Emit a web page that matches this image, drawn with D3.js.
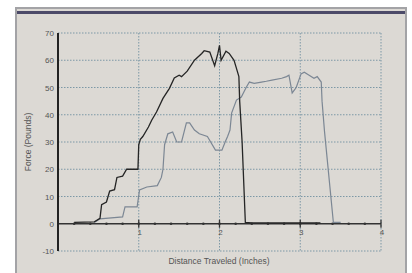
<!DOCTYPE html>
<html>
<head>
<meta charset="utf-8">
<script src="https://cdn.jsdelivr.net/npm/d3@7"></script>
<style>
  body { margin: 0; background: #fff; }
  svg { display: block; }
</style>
</head>
<body>
<svg id="chart"></svg>
<script>
// force vs distance
var blackSeries = [
  [0.2,0.5],[0.45,0.7],[0.52,2],[0.54,7],[0.6,8],[0.64,12],[0.7,12.5],[0.73,17],[0.8,17.5],
  [0.85,20],[0.99,20],[1.0,29],[1.02,31],[1.05,32],[1.12,35.5],[1.16,38],[1.22,41],[1.3,46],
  [1.38,49.7],[1.44,53.5],[1.5,54.5],[1.53,54],[1.6,56],[1.69,60],[1.78,62.5],[1.81,63.5],
  [1.88,63],[1.94,58],[1.98,62.5],[2.0,65.5],[2.02,60],[2.08,63.3],[2.12,62.5],[2.18,60],
  [2.21,57],[2.24,54],[2.25,45],[2.28,30],[2.32,0.5],[2.4,0.3],[3.25,0.3]
];
var graySeries = [
  [0.45,0.5],[0.52,1.8],[0.8,2.5],[0.83,6.2],[0.98,6.2],[1.01,12.4],[1.1,13.5],[1.23,14],
  [1.28,17],[1.3,20],[1.32,29],[1.36,33],[1.42,33.7],[1.47,30],[1.53,30],[1.59,37],[1.63,37],
  [1.69,34.4],[1.75,33],[1.85,32],[1.95,27],[2.03,27],[2.07,30],[2.1,32],[2.13,34.4],
  [2.15,40.6],[2.21,45.4],[2.27,46.5],[2.33,50],[2.37,52],[2.43,51.5],[2.52,52],[2.58,52.3],
  [2.65,52.7],[2.77,53.4],[2.83,54],[2.86,54.5],[2.9,48],[2.95,50],[3.01,55],[3.05,55.6],
  [3.11,54.5],[3.17,53.4],[3.21,54],[3.26,52],[3.27,45],[3.3,34],[3.41,0.5],[3.5,0.5]
];
var yTicks = [-10,0,10,20,30,40,50,60,70];
var xTicks = [1,2,3,4];
var xTitle = "Distance Traveled (Inches)";
var yTitle = "Force (Pounds)";

var width = 412, height = 273;
var svg = d3.select("#chart").attr("width", width).attr("height", height);

// window frame
svg.append("rect").attr("x",16).attr("y",8).attr("width",390).attr("height",270)
  .attr("fill","#dcd9d4").attr("stroke","#a3a3a6").attr("stroke-width",2);
svg.append("rect").attr("x",17).attr("y",11).attr("width",388).attr("height",3)
  .attr("fill","#4c4a68");

var x = d3.scaleLinear().domain([0,4]).range([58,381]);
var y = d3.scaleLinear().domain([-10,70]).range([251,33]);

// grid
var grid = svg.append("g").attr("stroke","#7d98a6").attr("stroke-width",1)
  .attr("stroke-dasharray","1.5,1.5");
grid.selectAll("line.h").data(yTicks.filter(function(d){return d!=0;})).enter().append("line")
  .attr("x1",x(0)).attr("x2",x(4)).attr("y1",function(d){return y(d);}).attr("y2",function(d){return y(d);});
grid.selectAll("line.v").data(xTicks).enter().append("line")
  .attr("y1",y(70)).attr("y2",y(-10)).attr("x1",function(d){return x(d);}).attr("x2",function(d){return x(d);});

// y labels
svg.append("g").selectAll("text").data(yTicks).enter().append("text")
  .attr("x",54).attr("y",function(d){return y(d)+3;})
  .attr("text-anchor","end").attr("font-family","Liberation Sans, Arial, sans-serif")
  .attr("font-size",8).attr("fill","#555").text(function(d){return d;});

// x axis along zero
svg.append("line").attr("x1",x(0)).attr("x2",x(4)).attr("y1",y(0)).attr("y2",y(0))
  .attr("stroke","#333").attr("stroke-width",1.3);
svg.append("g").selectAll("circle").data(d3.range(1,20)).enter().append("circle")
  .attr("cx",function(d){return x(d*0.2);}).attr("cy",y(0)).attr("r",1.3).attr("fill","#333");
svg.append("g").selectAll("line").data(xTicks).enter().append("line")
  .attr("x1",function(d){return x(d);}).attr("x2",function(d){return x(d);})
  .attr("y1",y(0)-4).attr("y2",y(0)+4).attr("stroke","#333").attr("stroke-width",1.3);
svg.append("g").selectAll("text").data(xTicks).enter().append("text")
  .attr("x",function(d){return x(d)+1;}).attr("y",y(0)+11)
  .attr("text-anchor","middle").attr("font-family","Liberation Sans, Arial, sans-serif")
  .attr("font-size",8).attr("fill","#555").text(function(d){return d;});

// y axis
svg.append("line").attr("x1",x(0)).attr("x2",x(0)).attr("y1",y(70)).attr("y2",y(-10))
  .attr("stroke","#222").attr("stroke-width",2);

var line = d3.line().x(function(d){return x(d[0]);}).y(function(d){return y(d[1]);});
svg.append("path").datum(graySeries).attr("d",line).attr("fill","none")
  .attr("stroke","#7c8794").attr("stroke-width",1.2);
svg.append("path").datum(blackSeries).attr("d",line).attr("fill","none")
  .attr("stroke","#252525").attr("stroke-width",1.3);

// titles
svg.append("text").attr("x",219).attr("y",264).attr("text-anchor","middle")
  .attr("font-family","Liberation Sans, Arial, sans-serif").attr("font-size",8.5)
  .attr("fill","#555").text(xTitle);
svg.append("text").attr("transform","translate(31,142) rotate(-90)").attr("text-anchor","middle")
  .attr("font-family","Liberation Sans, Arial, sans-serif").attr("font-size",8.5)
  .attr("fill","#555").text(yTitle);
</script>
</body>
</html>
